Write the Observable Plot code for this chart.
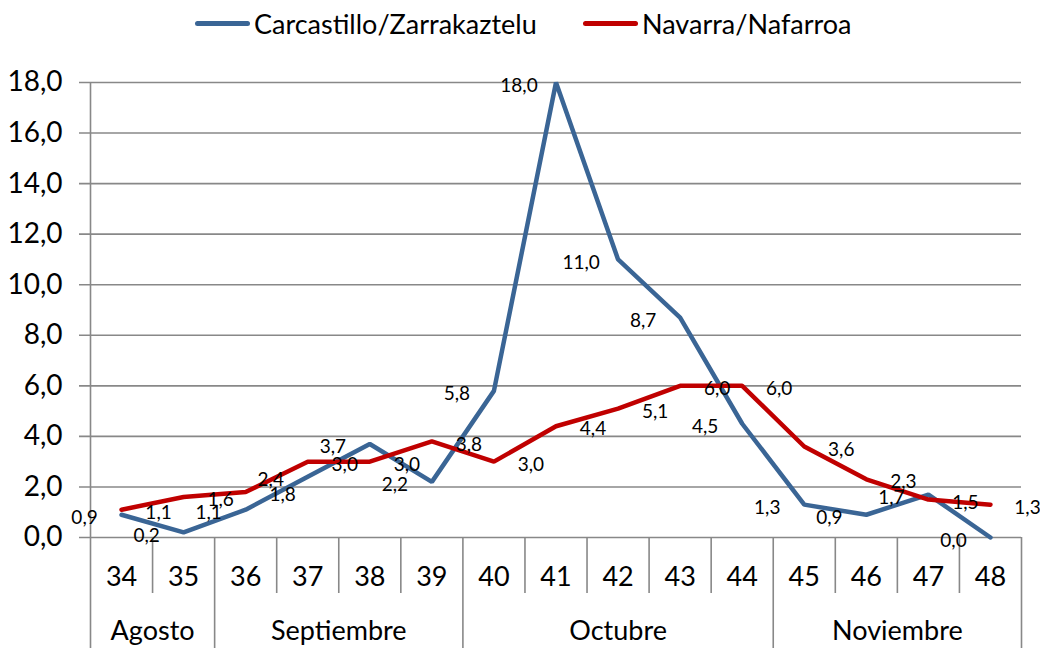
<!DOCTYPE html>
<html><head><meta charset="utf-8">
<script src="https://cdn.jsdelivr.net/npm/d3@7"></script>
<script src="https://cdn.jsdelivr.net/npm/@observablehq/plot@0.6"></script>
<style>
body{margin:0;background:#fff;font-family:Lato,sans-serif;}
#legend{position:relative;height:50px;width:1040px;}
.item{position:absolute;top:7px;display:flex;align-items:center;font-size:27px;color:#000;white-space:nowrap;}
.sw{width:55px;height:5px;border-radius:3px;margin-right:4px;}
</style>
</head><body>
<div id="legend"></div>
<div id="chart"></div>
<script>
const weeks = [34,35,36,37,38,39,40,41,42,43,44,45,46,47,48];
const carcastillo = [0.9,0.2,1.1,2.4,3.7,2.2,5.8,18.0,11.0,8.7,4.5,1.3,0.9,1.7,0.0];
const navarra = [1.1,1.6,1.8,3.0,3.0,3.8,3.0,4.4,5.1,6.0,6.0,3.6,2.3,1.5,1.3];
const seriesNames = ["Carcastillo/Zarrakaztelu","Navarra/Nafarroa"];
const seriesColors = ["#3A6595","#C00000"];
const months = ["Agosto","Septiembre","Octubre","Noviembre"];
const monthFirst = [34,36,40,45];
const monthLast = [35,39,44,48];
const yTicks = [0,2,4,6,8,10,12,14,16,18];

const fmt = d => d.toFixed(1).replace(".", ",");

// legend
const legend = document.getElementById("legend");
const legendLeft = [195, 583];
seriesNames.forEach((n,i)=>{
  const it = document.createElement("div");
  it.className="item"; it.style.left = legendLeft[i]+"px";
  it.innerHTML = `<span class="sw" style="background:${seriesColors[i]}"></span><span>${n}</span>`;
  legend.appendChild(it);
});

const blue = weeks.map((w,i)=>({week:w, value:carcastillo[i]}));
const red = weeks.map((w,i)=>({week:w, value:navarra[i]}));
const weekBounds = weeks.slice(0,-1).map(w=>w+0.5).filter(b=>!monthLast.includes(b-0.5));
const monthBounds = [monthFirst[0]-0.5, ...monthLast.map(w=>w+0.5)];
const monthData = months.map((m,i)=>({name:m, mid:(monthFirst[i]+monthLast[i])/2}));
const xmin = weeks[0]-0.5, xmax = weeks[weeks.length-1]+0.5;

const chart = Plot.plot({
  width:1040, height:598,
  marginLeft:90, marginRight:19, marginTop:32, marginBottom:111,
  x:{type:"linear", domain:[xmin,xmax], axis:null},
  y:{domain:[0,18], axis:null},
  style:{fontFamily:"Lato, sans-serif", color:"#000", background:"#fff"},
  marks:[
    Plot.ruleY(yTicks, {y:d=>d, x1:xmin, x2:xmax, insetLeft:-11, stroke:"#888", strokeWidth:1.6}),
    Plot.ruleX([xmin], {x:d=>d, y1:18, y2:0, insetBottom:-111, stroke:"#888", strokeWidth:1.6}),
    Plot.ruleX(monthBounds.slice(1), {x:d=>d, y1:0, y2:0, insetBottom:-111, stroke:"#888", strokeWidth:1.6}),
    Plot.ruleX(weekBounds, {x:d=>d, y1:0, y2:0, insetBottom:-56, stroke:"#888", strokeWidth:1.6}),
    Plot.text(yTicks, {x:xmin, y:d=>d, text:fmt, textAnchor:"end", dx:-28, fontSize:28, fill:"#000"}),
    Plot.text(weeks, {x:d=>d, y:0, text:d=>String(d), dy:40, fontSize:27, fill:"#000"}),
    Plot.text(monthData, {x:"mid", y:0, text:"name", dy:94, fontSize:27, fill:"#000"}),
    Plot.line(blue, {x:"week", y:"value", stroke:seriesColors[0], strokeWidth:4.5, strokeLinejoin:"miter"}),
    Plot.line(red, {x:"week", y:"value", stroke:seriesColors[1], strokeWidth:4.5, strokeLinejoin:"miter"}),
    Plot.text(blue, {x:"week", y:"value", text:d=>fmt(d.value), dx:-37, dy:3, fontSize:19, fill:"#000"}),
    Plot.text(red, {x:"week", y:"value", text:d=>fmt(d.value), dx:37, dy:3, fontSize:19, fill:"#000"})
  ]
});
document.getElementById("chart").appendChild(chart);
</script>
</body></html>
